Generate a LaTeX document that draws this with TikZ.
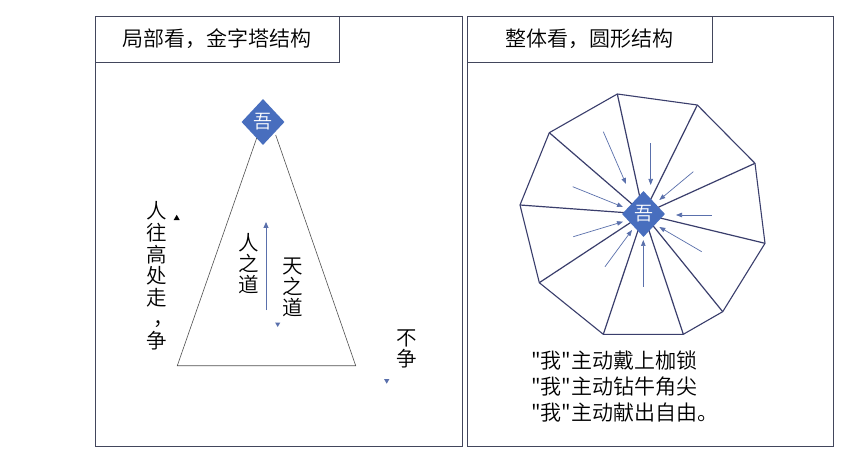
\documentclass[tikz,border=0pt]{standalone}
\usepackage{fontspec}
\newfontfamily\cjk{Noto Sans CJK SC DemiLight}
\usetikzlibrary{shapes.geometric,arrows.meta}
\definecolor{framecol}{RGB}{66,70,92}
\definecolor{dblue}{RGB}{72,110,190}
\definecolor{ablue}{RGB}{90,112,172}
\definecolor{polycol}{RGB}{58,62,108}
\definecolor{tricol}{RGB}{80,80,80}
\tikzset{
  panel/.style={draw=framecol,line width=0.9pt},
  titlebox/.style={draw=framecol,line width=0.9pt,minimum width=244pt,minimum height=46pt,inner sep=0pt,font=\cjk\fontsize{21}{24}\selectfont},
  wu/.style={diamond,fill=dblue,draw=none,text=white,inner sep=0pt,minimum width=43pt,minimum height=46pt,font=\cjk\fontsize{19}{22}\selectfont},
  vtext/.style={align=center,inner sep=0pt,font=\cjk\fontsize{20.5}{21.7}\selectfont},
  tside/.style={draw=tricol,line width=0.6pt},
  poly/.style={draw=polycol,line width=1.1pt,line join=round},
  spoke/.style={draw=polycol,line width=1.2pt},
  inarrow/.style={draw=ablue,line width=0.7pt,-{Triangle[length=6pt,width=4.5pt]}},
  uparrow/.style={draw=ablue,line width=0.9pt,-{Triangle[length=6pt,width=5pt]}},
  tipdown/.style={regular polygon,regular polygon sides=3,shape border rotate=180,fill=ablue,inner sep=0pt,minimum size=6pt},
  tipup/.style={regular polygon,regular polygon sides=3,fill=black,inner sep=0pt,minimum size=7pt},
}
\begin{document}
\begin{tikzpicture}[x=1pt,y=-1pt]
\useasboundingbox[fill=white] (0,0) rectangle (864,454);
% panels
\draw[panel] (95,16) rectangle (462,446);
\draw[panel] (467,16) rectangle (833,446);
\node[titlebox] (tL) at (217,39) {局部看，金字塔结构};
\node[titlebox,minimum width=245pt] (tR) at (589.5,39) {整体看，圆形结构};

% ---------- left: pyramid ----------
\node[wu] (dL) at (263,122) {吾};
\coordinate (aL) at (256.7,138);
\coordinate (aR) at (275.7,135);
\coordinate (bL) at (177.3,365.7);
\coordinate (bR) at (355.7,365.7);
\draw[tside] (aL) -- (bL) -- (bR) -- (aR);

\node[vtext] (t1) at (157,276) {人\\往\\高\\处\\走\\\raisebox{1.5pt}{\kern7pt，\kern-7pt}\\争};
\node[tipup] (m1) at (176.7,218.3) {};
\node[vtext,font=\cjk\fontsize{20.5}{21}\selectfont] (t2) at (249,263.5) {人\\之\\道};
\coordinate (u0) at (266,310);
\coordinate (u1) at (266,222);
\draw[uparrow] (u0) -- (u1);
\node[vtext,font=\cjk\fontsize{20.5}{21}\selectfont] (t3) at (293,287.5) {天\\之\\道};
\node[tipdown] (m2) at (277.7,324) {};
\node[vtext,font=\cjk\fontsize{20.5}{21}\selectfont] (t4) at (407,349) {不\\争};
\node[tipdown] (m3) at (386.7,380.7) {};

% ---------- right: circle ----------
\coordinate (c) at (643.5,214);
\coordinate (p1) at (617.3,94);
\coordinate (p2) at (697.3,105);
\coordinate (p3) at (755,163.3);
\coordinate (p4) at (765,243.3);
\coordinate (p5) at (722.7,311.7);
\coordinate (p6) at (683.3,334.3);
\coordinate (p7) at (603.3,334.3);
\coordinate (p8) at (539.3,282.7);
\coordinate (p9) at (520,205);
\coordinate (p10) at (549.3,132.7);
\foreach \i in {1,...,10} \draw[spoke] (c) -- (p\i);
\draw[poly] (p1) -- (p2) -- (p3) -- (p4) -- (p5) -- (p6) -- (p7) -- (p8) -- (p9) -- (p10) -- cycle;
\node[wu] (dR) at (c) {吾};

\coordinate (s1) at (603.3,131.7); \coordinate (e1) at (626,184);
\coordinate (s2) at (650.7,143.3); \coordinate (e2) at (650.7,185);
\coordinate (s3) at (693.3,171.7); \coordinate (e3) at (659.3,200);
\coordinate (s4) at (711.7,215);   \coordinate (e4) at (676,215);
\coordinate (s5) at (701.7,251.7); \coordinate (e5) at (659.3,227);
\coordinate (s6) at (643.3,286.7); \coordinate (e6) at (643.3,240);
\coordinate (s7) at (605,266.7);   \coordinate (e7) at (632,230);
\coordinate (s8) at (573.3,236.7); \coordinate (e8) at (623,221.7);
\coordinate (s9) at (572.7,186.7); \coordinate (e9) at (623,207);
\foreach \i in {1,...,9} \draw[inarrow] (s\i) -- (e\i);

\node[align=left,anchor=west,inner sep=0pt,font=\cjk\fontsize{21}{26}\selectfont] (txt) at (531,386)
  {"我"主动戴上枷锁\\"我"主动钻牛角尖\\"我"主动献出自由。};
\end{tikzpicture}
\end{document}
